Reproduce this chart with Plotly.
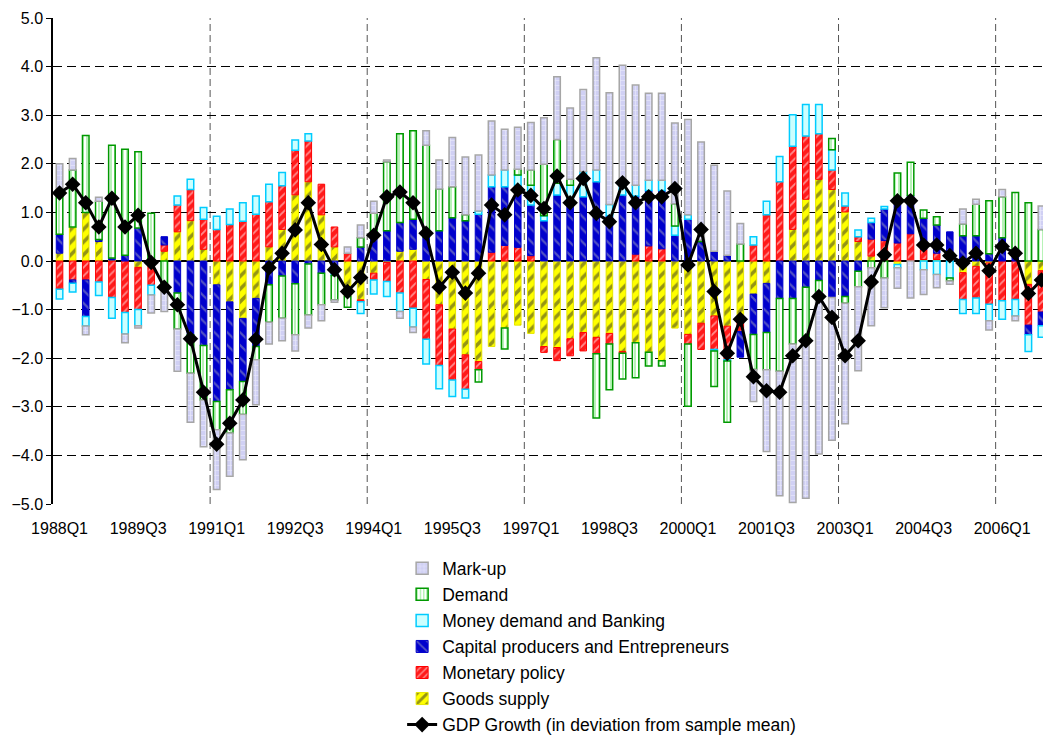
import plotly.graph_objects as go

quarters = [f"{y}Q{q}" for y in range(1988, 2007) for q in range(1, 5)]
tick_labels = ["1988Q1", "1989Q3", "1991Q1", "1992Q3", "1994Q1", "1995Q3", "1997Q1",
               "1998Q3", "2000Q1", "2001Q3", "2003Q1", "2004Q3", "2006Q1"]
y_ticks = [5, 4, 3, 2, 1, 0, -1, -2, -3, -4, -5]

goods_supply = [0.16, 0.7, 1.0, 0.4, 0.02, 0, -0.13, 0, 0.2, 0.6, 0.83, 0.24, -0.49, -0.84, -1.18, -0.77,
                0.29, 0.65, 1.36, 1.63, 0.95, 0.29, -0.73, -0.8, -0.25, -0.03, 0.2, 0.24, -0.38, -0.9, -1.4, -1.93,
                -2.07, -1.76, -1.38, -1.32, -1.49, -1.76, -1.78, -1.6, -1.47, -1.57, -1.49, -1.86, -1.68, -1.88, -2.05, -1.38,
                -1.51, -1.28, -1.13, -1.34, -1.25, -0.68, -0.46, 0, 0.65, 1.27, 1.68, 1.47, 1.01, 0.4, 0.1, 0,
                -0.07, 0, 0.03, 0.03, 0, -0.24, -0.11, -0.04, 0, 0, -0.48, -0.2]
monetary_policy = [-0.58, -0.39, -0.39, -0.43, -0.75, -1.06, -0.87, -0.5, 0.13, 0.55, 0.64, 0.62, 0.65, 0.75, 0.82, 0.96,
                   0.93, 0.9, 0.92, 0.84, 0.63, 0.41, 0.16, -0.04, -0.14, -0.39, -0.66, -0.97, -1.23, -1.25, -1.05, -0.71,
                   -0.17, 0.18, 0.32, 0.28, 0.11, -0.12, -0.27, -0.35, -0.38, -0.34, -0.22, -0.04, 0.14, 0.31, 0.25, 0,
                   -0.2, -0.54, -0.69, -0.69, -0.2, 0.33, 0.95, 1.63, 1.71, 1.3, 0.94, 0.4, 0.12, 0.1, 0.35, 0.42,
                   0.37, 0.56, 0.21, 0.13, 0.1, -0.55, -0.65, -0.85, -0.82, -0.79, -0.84, -0.85]
capital_producers = [0.39, -0.07, -0.75, 0.04, 0.04, 0.12, 0.68, 0, 0.17, -0.66, -1.52, -1.74, -2.4, -1.81, -1.3, -0.99,
                     -0.49, -0.31, -0.47, -0.06, -0.25, -0.25, 0, 0.29, 0.55, 0.62, 0.59, 0.62, 0.5, 0.62, 0.89, 0.83,
                     0.96, 1.35, 1.21, 1.27, 1.04, 0.83, 1.36, 1.29, 1.32, 1.63, 0.93, 1.36, 1.2, 1.14, 1.2, 0.53,
                     0.86, 0.4, 0.2, 0.12, -0.53, -0.83, -1.01, -0.77, -0.77, -0.54, -0.4, -0.75, -0.73, -0.21, 0.34, 0.65,
                     0.83, 0.79, 0.64, 0.58, 0.5, 0.52, 0.52, 0.15, 0.48, 0.1, -0.2, -0.28]
money_demand = [-0.2, -0.18, -0.2, -0.28, -0.43, -0.44, -0.33, -0.2, 0, 0.19, 0.21, 0.24, 0.27, 0.32, 0.38, 0.38,
                0.36, 0.27, 0.21, 0.15, 0, -0.05, 0, -0.24, -0.29, -0.31, -0.38, -0.39, -0.51, -0.48, -0.34, -0.18,
                0.07, 0.24, 0.34, 0.22, 0.41, 0.1, 0.24, 0.27, 0.52, 0.24, 0.23, 0.17, 0.22, 0.21, 0.21, 0.19,
                0.09, 0, -0.03, -0.03, 0, 0.17, 0.28, 0.52, 0.65, 0.65, 0.6, 0.42, 0.27, 0.14, 0.09, 0.05,
                -0.07, 0, -0.18, -0.28, -0.35, -0.29, -0.32, -0.34, -0.38, -0.34, -0.34, -0.24]
demand = [0.9, 1.17, 1.58, 0.79, 2.32, 2.18, 1.57, 0.98, -0.56, -0.74, -0.79, -1.12, -0.58, -0.89, -0.68, -0.27,
          -0.77, -0.87, -1.05, -1.05, -0.65, -0.5, -0.22, 0.19, 0.43, 1.42, 1.83, 1.82, 1.88, 0.86, 0.64, 0.12,
          -0.25, 0, -0.43, 0.12, 0.31, 1.06, 0.9, 0.12, 0, -1.32, -0.94, -0.53, -0.72, -0.28, -0.11, 0.46,
          -1.28, 0.03, -0.73, -1.26, 0.35, -0.72, -0.77, -1.5, -0.94, -1.08, -0.25, 0.23, -0.14, -0.32, -0.14, -0.35,
          0.61, 0.68, 0.17, 0.17, -0.06, 0.24, 0.65, 1.09, 0.84, 1.31, 1.2, 0.65]
mark_up = [0.55, 0.24, -0.18, 0.08, 0, -0.18, -0.05, -0.37, -0.48, -0.87, -1.01, -0.96, -1.23, -0.89, -0.93, -0.93,
           -0.45, -0.46, -0.33, -0.27, -0.33, -0.05, 0.13, 0.26, 0.25, 0.04, -0.14, -0.11, 0.3, 0.6, 1.01, 1.19,
           1.15, 1.11, 0.84, 0.86, 0.98, 0.96, 1.29, 1.47, 1.69, 2.31, 2.3, 2.5, 2.06, 1.79, 1.79, 1.66,
           1.96, 2.02, 1.77, 1.32, 0.42, -0.66, -1.68, -2.56, -3.26, -3.26, -3.32, -2.94, -2.48, -1.73, -1.19, -0.61,
           -0.42, -0.76, -0.51, -0.27, -0.07, 0.31, 0.1, -0.19, 0.15, -0.1, 0, 0.48]
gdp_growth = [1.40, 1.58, 1.2, 0.7, 1.29, 0.7, 0.94, -0.03,
              -0.54, -0.9, -1.6, -2.7, -3.77, -3.34, -2.86, -1.61,
              -0.14, 0.16, 0.64, 1.2, 0.34, -0.18, -0.63, -0.34,
              0.53, 1.32, 1.42, 1.2, 0.57, -0.54, -0.23, -0.66,
              -0.25, 1.15, 0.95, 1.46, 1.35, 1.08, 1.75, 1.2,
              1.7, 0.98, 0.81, 1.61, 1.2, 1.32, 1.32, 1.49,
              -0.08, 0.65, -0.63, -1.9, -1.2, -2.38, -2.67, -2.7,
              -1.95, -1.64, -0.73, -1.16, -1.95, -1.64, -0.43, 0.13,
              1.24, 1.24, 0.33, 0.33, 0.11, -0.04, 0.16, -0.2,
              0.3, 0.16, -0.67, -0.39]

FONT = "Liberation Sans, Arial, sans-serif"


def nz(vals):
    return [v if v != 0 else None for v in vals]


series = [
    ("Goods supply", goods_supply, dict(color="#ffff00", line=dict(color="#e6e600", width=1),
                                        pattern=dict(shape="/", fgcolor="#2a2a2a", bgcolor="#ffff00", size=9, solidity=0.4)), 6),
    ("Monetary policy", monetary_policy, dict(color="#ff0000", line=dict(color="#ff0000", width=1),
                                              pattern=dict(shape="/", fgcolor="#ffffff", bgcolor="#ff1a1a", size=6, solidity=0.3)), 5),
    ("Capital producers and Entrepreneurs", capital_producers, dict(color="#0000cc", line=dict(color="#0000cc", width=1),
                                                                    pattern=dict(shape="\\", fgcolor="#a8a8b8", bgcolor="#0000cc", size=9, solidity=0.25)), 4),
    ("Money demand and Banking", money_demand, dict(color="#ccffff", line=dict(color="#00ccff", width=1.5)), 3),
    ("Demand", demand, dict(color="#ffffff", line=dict(color="#009900", width=1.5),
                            pattern=dict(shape="|", fgcolor="#33dd33", bgcolor="#ffffff", size=4, solidity=0.35)), 2),
    ("Mark-up", mark_up, dict(color="#d8d8f4", line=dict(color="#a6a6a6", width=1.5),
                              pattern=dict(shape="+", fgcolor="#ffffff", bgcolor="#d0d0f4", size=5, solidity=0.25)), 1),
]

fig = go.Figure()
for name, vals, marker, rank in series:
    fig.add_trace(go.Bar(x=quarters, y=nz(vals), name=name, marker=marker,
                         legendrank=rank, legendgroup=name))

gdp_name = "GDP Growth (in deviation from sample mean)"
fig.add_trace(go.Scatter(x=quarters, y=gdp_growth, mode="lines+markers",
                         name=gdp_name, legendgroup=gdp_name,
                         line=dict(color="#000000", width=3),
                         marker=dict(symbol="diamond", size=12, color="#000000"),
                         legendrank=7))

shapes = []
for k in range(12, len(quarters), 12):
    shapes.append(dict(type="line", xref="x", yref="paper", x0=k - 0.5, x1=k - 0.5, y0=0, y1=1,
                       line=dict(color="#555555", width=1, dash="7px,4px"), layer="below"))

fig.update_layout(
    width=1051, height=738,
    margin=dict(l=45, r=11, t=10, b=242, autoexpand=False),
    paper_bgcolor="white", plot_bgcolor="white",
    barmode="relative", bargap=0.5,
    font=dict(family=FONT, size=16, color="#000000"),
    shapes=shapes,
    showlegend=True,
    legend=dict(xref="container", yref="container", x=0.375, y=0.265,
                xanchor="left", yanchor="top", orientation="v",
                font=dict(family=FONT, size=17.5), bgcolor="rgba(0,0,0,0)",
                traceorder="grouped", tracegroupgap=0.3, itemwidth=30),
)
fig.update_xaxes(type="category", tickmode="array", tickvals=tick_labels, ticktext=tick_labels,
                 showgrid=False, showline=False, ticks="", tickfont=dict(size=16),
                 ticklabelstandoff=13,
                 range=[-0.5, len(quarters) - 0.5])
fig.update_yaxes(range=[-5, 5], tickvals=y_ticks, tickformat=".1f",
                 showgrid=True, gridcolor="#000000", gridwidth=1, griddash="9px,5px",
                 zeroline=True, zerolinecolor="#000000", zerolinewidth=1.5,
                 showline=True, linecolor="#000000", linewidth=1.5,
                 ticks="outside", ticklen=5, tickcolor="#000000", tickfont=dict(size=16))

fig.write_html("out.html")
